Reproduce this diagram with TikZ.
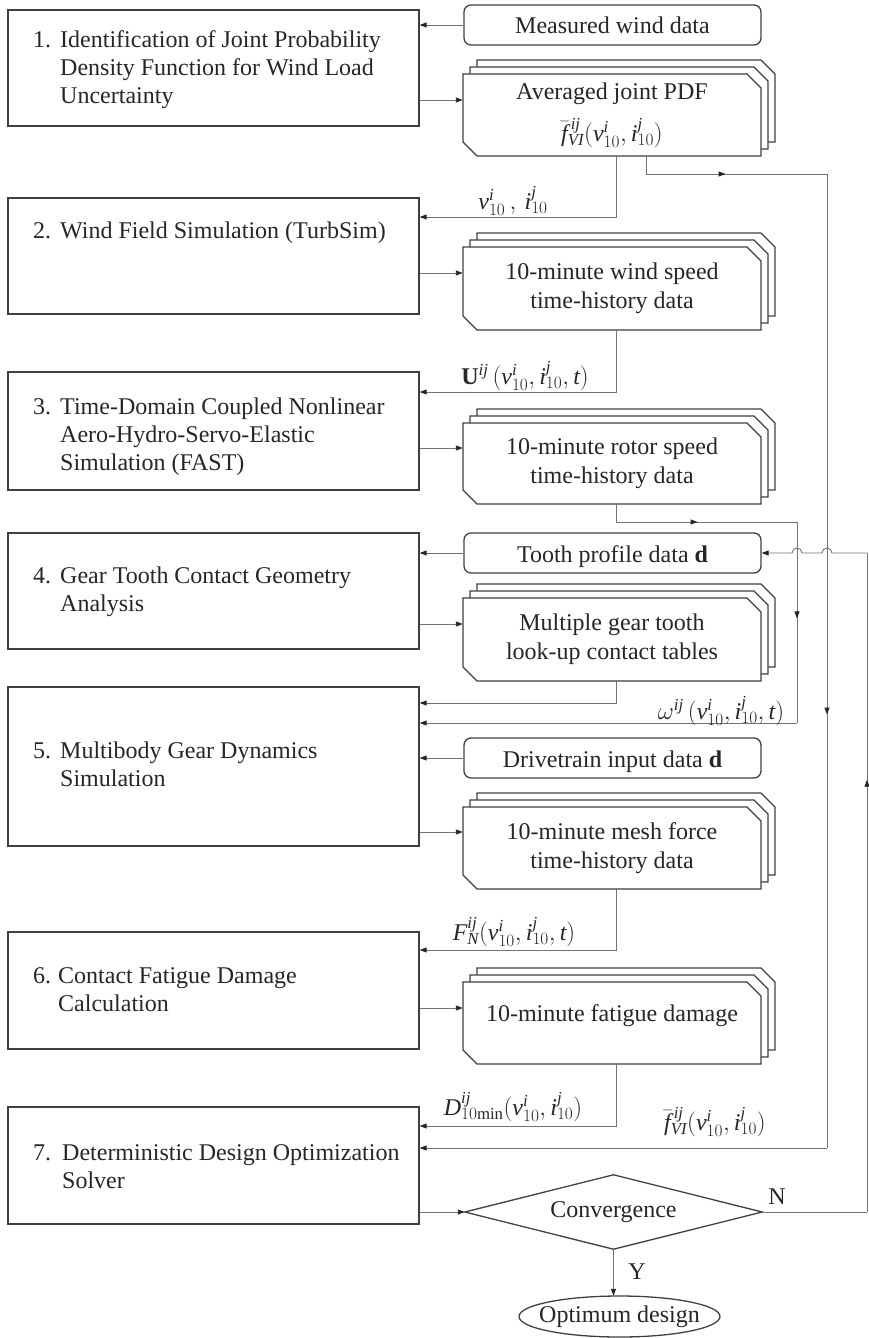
\documentclass[tikz,border=0pt]{standalone}
\usepackage{fontspec}
\setmainfont{Liberation Serif}
\usetikzlibrary{arrows.meta,decorations.markings,calc}

% number column of the step boxes
\newcommand\stepnum[2][27pt]{\makebox[#1][l]{#2}}
% italic symbols set in the text face
\newcommand\mi[1]{\mathit{#1}}
\newcommand\vten{\mi{v}^{\mi{i}}_{10}}
\newcommand\iten{\mi{i}^{\mi{j}}_{10}}
\newcommand\fbar{\bar{\mi{f}}^{\,\mi{ij}}_{\mi{VI}}}

\tikzset{
  boxline/.style={draw=black!75, line width=1.3pt},
  stepbox/.style={boxline, minimum width=411pt, inner sep=0pt},
  steptext/.style={anchor=base west, inner sep=0pt, font=\fontsize{24}{28}\selectfont, text=black!85},
  databox/.style={boxline, rounded corners=7pt, minimum width=297pt, minimum height=40pt,
    inner sep=0pt, text height=21pt, text depth=3pt, font=\fontsize{24}{28}\selectfont, text=black!85},
  doctext/.style={minimum width=298pt, inner sep=0pt, align=center,
    font=\fontsize{24}{29}\selectfont, text=black!85},
  conn/.style={draw=black!55, line width=0.9pt},
  tip/.style={-{Triangle[length=7pt,width=5pt,color=black!85]}},
  midtip/.style={postaction={decorate}, decoration={markings,
    mark=at position #1 with {\arrow{Triangle[length=7pt,width=5pt,color=black!85]}}}},
  lbl/.style={font=\fontsize{24}{28}\selectfont, inner sep=0pt, text=black!85},
}

% stack of three document sheets: name, left, top, right, bottom, text
\newcommand\docstack[6]{%
  \foreach \k in {2,1}{%
    \draw[boxline, fill=white]
      ({#2+7*\k},{-#5+7*\k}) -- ({#2+7*\k},{-#3+7*\k}) -- ({#4-14+7*\k},{-#3+7*\k})
      -- ({#4+7*\k},{-#3-14+7*\k}) -- ({#4+7*\k},{-#5+7*\k}) -- cycle;
  }
  \draw[boxline, fill=white] (#2,{-#3}) -- ({#4-14},{-#3}) -- (#4,{-#3-14})
    -- (#4,{-#5}) -- ({#2+14},{-#5}) -- (#2,{-#5+14}) -- cycle;
  \node[doctext, minimum height={#5-#3}] (#1) at ({(#2+#4)/2},{-(#3+#5)/2}) {#6};
}

\begin{document}
\begin{tikzpicture}[x=1pt,y=1pt]
\useasboundingbox (0,0) rectangle (868,-1338);

% process steps
\node[stepbox, minimum height=116pt] (b1) at (213.5,-68) {};
\node[stepbox, minimum height=116pt] (b2) at (213.5,-256) {};
\node[stepbox, minimum height=118pt] (b3) at (213.5,-431) {};
\node[stepbox, minimum height=116pt] (b4) at (213.5,-591) {};
\node[stepbox, minimum height=159pt] (b5) at (213.5,-766.5) {};
\node[stepbox, minimum height=117pt] (b6) at (213.5,-990.5) {};
\node[stepbox, minimum height=117pt] (b7) at (213.5,-1165.5) {};

\node[steptext] (t1) at (33,-48) {\begin{tabular}[t]{@{}l@{}l@{}}\stepnum{1.}&Identification of Joint Probability\\&Density Function for Wind Load\\&Uncertainty\end{tabular}};
\node[steptext] (t2) at (33,-238) {\begin{tabular}[t]{@{}l@{}l@{}}\stepnum{2.}&Wind Field Simulation (TurbSim)\end{tabular}};
\node[steptext] (t3) at (33,-414) {\begin{tabular}[t]{@{}l@{}l@{}}\stepnum{3.}&Time-Domain Coupled Nonlinear\\&Aero-Hydro-Servo-Elastic\\&Simulation (FAST)\end{tabular}};
\node[steptext] (t4) at (33,-583) {\begin{tabular}[t]{@{}l@{}l@{}}\stepnum{4.}&Gear Tooth Contact Geometry\\&Analysis\end{tabular}};
\node[steptext] (t5) at (33,-758) {\begin{tabular}[t]{@{}l@{}l@{}}\stepnum{5.}&Multibody Gear Dynamics\\&Simulation\end{tabular}};
\node[steptext] (t6) at (33,-983) {\begin{tabular}[t]{@{}l@{}l@{}}\stepnum[25pt]{6.}&Contact Fatigue Damage\\&Calculation\end{tabular}};
\node[steptext] (t7) at (33,-1160) {\begin{tabular}[t]{@{}l@{}l@{}}\stepnum[29pt]{7.}&Deterministic Design Optimization\\&Solver\end{tabular}};

% data inputs
\node[databox] (mw) at (612.5,-25) {Measured wind data};
\node[databox] (tp) at (612.5,-553) {Tooth profile data \textbf{d}};
\node[databox] (dt) at (612.5,-758) {Drivetrain input data \textbf{d}};

% intermediate results
\docstack{pdf}{463}{74}{761}{156}{\raisebox{-4pt}{Averaged joint PDF}\\[13pt]\raisebox{-4pt}{$\fbar(\vten,\iten)$}}
\docstack{ws}{463}{247}{761}{330}{10-minute wind speed\\time-history data}
\docstack{rs}{463}{423}{761}{504}{10-minute rotor speed\\time-history data}
\docstack{ct}{463}{598}{761}{681}{Multiple gear tooth\\look-up contact tables}
\docstack{mf}{463}{807}{761}{889}{10-minute mesh force\\time-history data}
\docstack{fd}{463}{982}{761}{1064}{\raisebox{2pt}[0pt][0pt]{10-minute fatigue damage}}

% decision and result
\node[inner sep=0pt, minimum width=297pt, minimum height=74pt, font=\fontsize{24}{28}\selectfont, text=black!85] (cv) at (613.5,-1212) {Convergence};
\draw[boxline] (cv.west) -- (cv.north) -- (cv.east) -- (cv.south) -- cycle;
\node[inner sep=0pt, minimum width=201pt, minimum height=41pt, font=\fontsize{24}{28}\selectfont, text=black!85] (od) at (619.5,-1316.5) {Optimum design};
\draw[boxline] (od.center) ellipse [x radius=100.5pt, y radius=20.5pt];

% step 1
\draw[conn, tip] (mw.west) -- (mw.west -| b1.east);
\draw[conn, tip] (b1.east |- 0,-100) -- (pdf.west |- 0,-100);
\draw[conn, tip] ([xshift=4pt]pdf.south) |- (b2.east |- 0,-217);
\node[lbl] (l1) at (513,-201) {$\vten\,,\,\iten$};

% averaged PDF to the optimizer
\coordinate (fa) at (827,-174);
\coordinate (fb) at (827,-1148);
\draw[conn, midtip=0.49] ([xshift=34pt]pdf.south) |- (fa);
\draw[conn, midtip=0.555] (fa) -- (fb);
\draw[conn, tip] (fb) -- (fb -| b7.east);
\node[lbl] (l6) at (715,-1122) {$\fbar(\vten,\iten)$};

% step 2
\draw[conn, tip] (b2.east |- 0,-273) -- (ws.west |- 0,-273);
\draw[conn, tip] ([xshift=4pt]ws.south) |- (b3.east |- 0,-392);
\node[lbl] (l2) at (525,-376) {$\mathbf{U}^{\mi{ij}}\,(\vten,\iten,\mi{t})$};

% step 3
\draw[conn, tip] (b3.east |- 0,-448) -- (rs.west |- 0,-448);
\coordinate (ra) at (797,-522);
\coordinate (rb) at (797,-723);
\draw[conn, midtip=0.5] ([xshift=4pt]rs.south) |- (ra);
\draw[conn, midtip=0.48] (ra) -- (rb);
\draw[conn, tip] (rb) -- (rb -| b5.east);
\node[lbl] (l3) at (721,-711) {$\omega^{\mi{ij}}\,(\vten,\iten,\mi{t})$};

% step 4
\draw[conn, tip] (tp.west) -- (tp.west -| b4.east);
\draw[conn, tip] (b4.east |- 0,-624) -- (ct.west |- 0,-624);
\draw[conn, tip] ([xshift=4pt]ct.south) |- (b5.east |- 0,-703);

% step 5
\draw[conn, tip] (dt.west) -- (dt.west -| b5.east);
\draw[conn, tip] (b5.east |- 0,-832) -- (mf.west |- 0,-832);
\draw[conn, tip] ([xshift=4pt]mf.south) |- (b6.east |- 0,-950);
\node[lbl] (l4) at (514,-932) {$\mi{F}^{\mi{ij}}_{\mi{N}}(\vten,\iten,\mi{t})$};

% step 6
\draw[conn, tip] (b6.east |- 0,-1008) -- (fd.west |- 0,-1008);
\draw[conn, tip] ([xshift=4pt]fd.south) |- (b7.east |- 0,-1126);
\node[lbl] (l5) at (513,-1107) {$\mi{D}^{\mi{ij}}_{10\mathrm{min}}(\vten,\iten)$};

% step 7 and convergence check
\draw[conn, tip] (b7.east |- cv.west) -- (cv.west);
\draw[conn, tip] (cv.south) -- (cv.south |- od.north);
\node[lbl] (ly) at (637,-1272) {Y};
\node[lbl] (ln) at (777,-1197) {N};

% redesign loop back to the tooth profile data
\coordinate (fr) at (867,-1212);
\draw[conn] (cv.east) -- (fr);
\draw[conn, midtip=0.656] (fr) -- (fr |- tp.east);
\draw[conn, tip] (fr |- tp.east) -- (832,-553) arc[start angle=0, end angle=180, radius=5pt]
  -- (802,-553) arc[start angle=0, end angle=180, radius=5pt] -- (tp.east);
\end{tikzpicture}
\end{document}
